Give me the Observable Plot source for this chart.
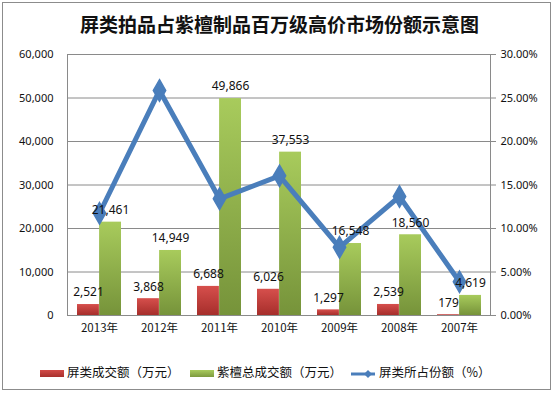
<!DOCTYPE html>
<html><head><meta charset="utf-8">
<script src="https://cdn.jsdelivr.net/npm/d3@7"></script>
<script src="https://cdn.jsdelivr.net/npm/@observablehq/plot@0.6"></script>
<style>
body{margin:0;background:#fff;font-family:"Noto Sans CJK SC","Noto Sans",sans-serif;}
#wrap{position:relative;width:559px;height:395px;overflow:hidden;}
#frame{position:absolute;left:2px;top:2px;width:549px;height:388px;border:1px solid #8c8c8c;box-sizing:border-box;}
#title{position:absolute;left:0;top:10px;width:559px;text-align:center;font-size:19px;font-weight:bold;color:#111;}
#chart{position:absolute;left:0;top:0;}
.leg{position:absolute;top:362px;font-size:12.5px;color:#111;white-space:nowrap;}
.sw{display:inline-block;width:24px;height:7px;vertical-align:middle;margin-right:3px;}
</style></head>
<body><div id="wrap"><div id="frame"></div><div id="chart"></div><div id="title"></div>
<div class="leg" style="left:40px"><span class="sw" style="background:linear-gradient(#d24b48,#a8302d)"></span><span id="l0"></span></div>
<div class="leg" style="left:190px"><span class="sw" style="background:linear-gradient(#a9cb5e,#7d9a3e)"></span><span id="l1"></span></div>
<div class="leg" style="left:350px"><svg width="26" height="12" style="vertical-align:middle;margin-right:3px"><line x1="1" y1="6" x2="25" y2="6" stroke="#4a7ebb" stroke-width="3"/><path d="M18,2 L22,6 L18,10 L14,6Z" fill="#4a7ebb"/></svg><span id="l2"></span></div>
</div>
<script>
const title = "屏类拍品占紫檀制品百万级高价市场份额示意图";
const years = ["2013年","2012年","2011年","2010年","2009年","2008年","2007年"];
const screenSales = [2521,3868,6688,6026,1297,2539,179];
const zitanSales = [21461,14949,49866,37553,16548,18560,4619];
const sharePct = [11.75,25.87,13.41,16.05,7.84,13.68,3.88];
const seriesNames = ["屏类成交额（万元）","紫檀总成交额（万元）","屏类所占份额（%）"];

document.getElementById("title").textContent = title;
seriesNames.forEach((n,i)=>document.getElementById("l"+i).textContent = n);

const data = years.map((y,i)=>({year:y, screen:screenSales[i], zitan:zitanSales[i], pct:sharePct[i]}));
const fmt = d3.format(",");
const scaleK = 60000/30; // percent -> left axis units

const font = "Noto Sans, sans-serif";
const chart = Plot.plot({
  width:559, height:395,
  marginLeft:67, marginRight:69, marginTop:54, marginBottom:80,
  style:{fontFamily:font, fontSize:"11px", color:"#111", background:"transparent"},
  x:{domain:years, paddingInner:0.267, paddingOuter:0.133, label:null},
  y:{domain:[0,60000], label:null},
  marks:[
    Plot.gridY({ticks:d3.range(10000,60001,10000), stroke:"#8a8a8a", strokeOpacity:1}),
    Plot.frame({anchor:"left", stroke:"#8a8a8a"}),
    Plot.barY(data,{x:"year", y:"screen", fill:"url(#gRed)", insetRight:22.1}),
    Plot.barY(data,{x:"year", y:"zitan", fill:"url(#gGreen)", insetLeft:22.1}),
    Plot.ruleY([0],{stroke:"#8a8a8a"}),
    Plot.axisY({ticks:d3.range(0,60001,10000), tickFormat:fmt, tickSize:0, tickPadding:14, label:null, fontSize:11}),
    Plot.axisY({anchor:"right", ticks:d3.range(0,60001,10000), tickFormat:d=>(d/scaleK).toFixed(2)+"%", tickSize:5, tickPadding:5, label:null, stroke:"#8a8a8a", fontSize:11}),
    Plot.frame({anchor:"right", stroke:"#8a8a8a"}),
    Plot.axisX({tickSize:0, tickPadding:8, label:null, fontSize:11.5, fontFamily:"Noto Sans CJK SC"}),
    Plot.line(data,{x:"year", y:d=>d.pct*scaleK, stroke:"#4a7ebb", strokeWidth:5, strokeLinejoin:"miter"}),
    Plot.dot(data,{x:"year", y:d=>d.pct*scaleK, symbol:"diamond", r:6.5, fill:"#4a7ebb", stroke:"#4a7ebb"}),
    Plot.text(data,{x:"year", y:"screen", text:d=>fmt(d.screen), dx:-11, dy:-12, fontSize:12, fill:"#111"}),
    Plot.text(data,{x:"year", y:"zitan", text:d=>fmt(d.zitan), dx:11, dy:-12, fontSize:12, fill:"#111"})
  ]
});
const svg = d3.select(chart);
const defs = svg.insert("defs",":first-child");
const gr = defs.append("linearGradient").attr("id","gRed").attr("x1",0).attr("y1",0).attr("x2",0).attr("y2",1);
gr.append("stop").attr("offset","0%").attr("stop-color","#d64f4c");
gr.append("stop").attr("offset","100%").attr("stop-color","#a62e2b");
const gg = defs.append("linearGradient").attr("id","gGreen").attr("x1",0).attr("y1",0).attr("x2",0).attr("y2",1);
gg.append("stop").attr("offset","0%").attr("stop-color","#a8cb5c");
gg.append("stop").attr("offset","100%").attr("stop-color","#76933a");
document.getElementById("chart").appendChild(chart);
</script>
</body></html>
